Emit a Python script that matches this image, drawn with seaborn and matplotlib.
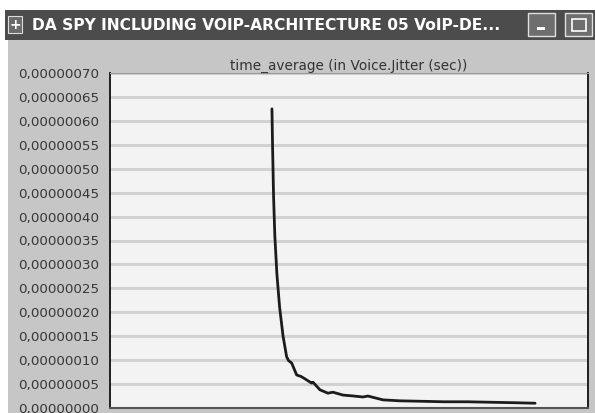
import matplotlib
matplotlib.use("Agg")
import matplotlib.pyplot as plt
from matplotlib.patches import Rectangle
from matplotlib.ticker import FuncFormatter, MultipleLocator
import seaborn as sns
import pandas as pd

window_title = "DA SPY INCLUDING VOIP-ARCHITECTURE 05 VoIP-DE..."
chart_title = "time_average (in Voice.Jitter (sec))"

# simulation time (axis units) and jitter in microseconds (x1e-6 sec)
sim_time = [2.358, 2.368, 2.382, 2.40, 2.43, 2.47, 2.52, 2.572, 2.60, 2.645,
            2.718, 2.78, 2.838, 2.936, 2.955, 3.057, 3.173, 3.246, 3.392,
            3.55, 3.683, 3.755, 3.974, 4.221, 4.55, 4.87, 5.2, 5.55, 5.9, 6.19]
jitter_us = [0.625, 0.54, 0.44, 0.36, 0.28, 0.21, 0.15, 0.107, 0.099, 0.094,
             0.069, 0.066, 0.061, 0.052, 0.054, 0.038, 0.031, 0.033, 0.027,
             0.025, 0.023, 0.025, 0.017, 0.015, 0.014, 0.013, 0.013, 0.012, 0.011, 0.010]

df = pd.DataFrame({"time": sim_time, "jitter": [v * 1e-6 for v in jitter_us]})

sns.set_style("white")
plt.rcParams["font.family"] = ["DejaVu Sans"]

fig = plt.figure(figsize=(5.95, 4.13), dpi=100)
fig.patch.set_facecolor("#c6c6c6")

# white strip on top/left and the window title bar
fig.patches.append(Rectangle((0, 1 - 10 / 413), 1, 10 / 413, transform=fig.transFigure,
                             facecolor="white", edgecolor="none", zorder=0))
fig.patches.append(Rectangle((0, 0), 8 / 595, 1, transform=fig.transFigure,
                             facecolor="white", edgecolor="none", zorder=0))
fig.patches.append(Rectangle((5 / 595, 1 - 40 / 413), 590 / 595, 30 / 413,
                             transform=fig.transFigure, facecolor="#4c4c4c",
                             edgecolor="none", zorder=1))
fig.patches.append(Rectangle((8 / 595, 1 - 33 / 413), 14 / 595, 17 / 413,
                             transform=fig.transFigure, facecolor="#6a6a6a",
                             edgecolor="#dddddd", lw=0.8, zorder=2))
fig.text(15 / 595, 1 - 25 / 413, "+", color="white", fontsize=10, fontweight="bold",
         ha="center", va="center", zorder=3)
for bx in (528, 565):
    fig.patches.append(Rectangle((bx / 595, 1 - 36 / 413), 27 / 595, 23 / 413,
                                 transform=fig.transFigure, facecolor="#6e6e6e",
                                 edgecolor="#e0e0e0", lw=1.0, zorder=2))
fig.patches.append(Rectangle((537 / 595, 1 - 30 / 413), 8 / 595, 3 / 413,
                             transform=fig.transFigure, facecolor="white",
                             edgecolor="none", zorder=3))
fig.patches.append(Rectangle((572 / 595, 1 - 31 / 413), 14 / 595, 12 / 413,
                             transform=fig.transFigure, facecolor="none",
                             edgecolor="white", lw=1.2, zorder=3))
fig.text(32 / 595, 1 - 25 / 413, window_title, color="white", fontsize=11.2,
         fontweight="bold", ha="left", va="center", zorder=3)

ax = fig.add_axes([110 / 595, 5 / 413, 478 / 595, 335 / 413])
ax.set_facecolor("#f3f3f3")

sns.lineplot(data=df, x="time", y="jitter", ax=ax, color="#1c1c1c", lw=2.0)

ax.set_xlim(0, 6.96)
ax.set_ylim(0, 0.70e-6)
ax.yaxis.set_major_locator(MultipleLocator(0.05e-6))
ax.xaxis.set_major_locator(MultipleLocator(1))
ax.yaxis.set_major_formatter(FuncFormatter(lambda v, p: f"{v:.8f}".replace(".", ",")))
ax.set_xticklabels([])
ax.set_xlabel("")
ax.set_ylabel("")
ax.grid(axis="y", color="#d2d2d2", lw=2.2)
ax.grid(axis="x", visible=False)
ax.tick_params(axis="y", direction="out", length=5, width=1, color="#555555",
               labelsize=9.7, labelcolor="#383838", pad=3)
ax.tick_params(axis="x", direction="out", length=5, width=1, color="#222222")
for side in ("left", "right"):
    ax.spines[side].set_color("#111111")
    ax.spines[side].set_linewidth(1.3)
ax.spines["top"].set_color("#9a9a9a")
ax.spines["bottom"].set_color("#555555")
ax.spines["bottom"].set_linewidth(1.5)

ax.set_title(chart_title, fontsize=9.8, color="#333333", pad=2)

fig.savefig("out.png", dpi=100, facecolor=fig.get_facecolor())
